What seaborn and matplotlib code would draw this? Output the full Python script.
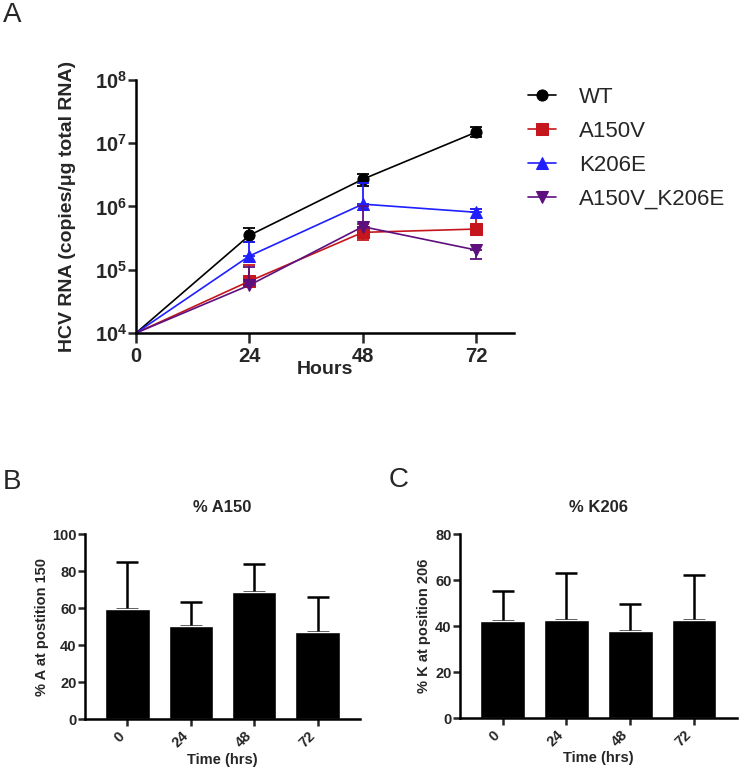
import numpy as np
import pandas as pd
import matplotlib
matplotlib.use('Agg')
import seaborn as sns
import matplotlib.pyplot as plt

# panel A: HCV RNA time course (copies/ug total RNA)
hours = [0, 24, 48, 72]
series_names = ['WT', 'A150V', 'K206E', 'A150V_K206E']
wt = [1e4, 3.5e5, 2.7e6, 1.5e7]
wt_lo = [0, 0.8e5, 0.6e6, 2.3e6]
wt_hi = [0, 1.0e5, 0.6e6, 2.8e6]
a150v = [1e4, 6.6e4, 3.9e5, 4.4e5]
a150v_lo = [0, 0, 0.95e5, 0]
a150v_hi = [0, 5.4e4, 1.3e5, 4.6e5]
k206e = [1e4, 1.65e5, 1.09e6, 8.1e5]
k206e_lo = [0, 0, 0, 0]
k206e_hi = [0, 1.1e5, 1.3e6, 1.0e5]
double = [1e4, 5.7e4, 4.8e5, 2.05e5]
double_lo = [0, 0, 0, 0.55e5]
double_hi = [0, 5.3e4, 5.5e5, 0]

# panels B and C: percent at position
time_labels = ['0', '24', '48', '72']
pct_a150 = [59.5, 50.6, 68.6, 47.4]
pct_a150_sem = [25.4, 12.6, 15.4, 18.9]
pct_k206 = [42.5, 42.8, 37.8, 42.8]
pct_k206_sem = [12.9, 20.5, 11.9, 19.5]

sns.set_style('ticks')
plt.rcParams['font.family'] = ['Liberation Sans', 'DejaVu Sans']
plt.rcParams['mathtext.fontset'] = 'custom'
plt.rcParams['mathtext.bf'] = 'Liberation Sans:bold'
plt.rcParams['mathtext.rm'] = 'Liberation Sans'

fig = plt.figure(figsize=(7.49, 7.72), dpi=100)

SPINE = 1.8


def style_axes(ax):
    sns.despine(ax=ax)
    for s in ['left', 'bottom']:
        ax.spines[s].set_linewidth(SPINE)
        ax.spines[s].set_color('black')


# ---------- panel A ----------
axA = fig.add_axes([136 / 749, 1 - 333 / 772, 378 / 749, 253 / 772])
colors = ['#000000', '#c4161c', '#1f1fff', '#5e0f7e']
markers = ['o', 's', '^', 'v']
vals = [wt, a150v, k206e, double]
los = [wt_lo, a150v_lo, k206e_lo, double_lo]
his = [wt_hi, a150v_hi, k206e_hi, double_hi]

for name, c, m, v, lo, hi in zip(series_names, colors, markers, vals, los, his):
    sns.lineplot(x=hours, y=v, ax=axA, color=c, marker=m, markersize=8,
                 markeredgecolor=c, markevery=[1, 2, 3], linewidth=1.2,
                 label=name)
    axA.errorbar(hours[1:], v[1:], yerr=[lo[1:], hi[1:]], fmt='none',
                 ecolor=c, elinewidth=1.3, capsize=4.5, capthick=1.3)

axA.set_yscale('log')
axA.set_ylim(1e4, 1e8)
axA.set_xlim(0, 80)
axA.set_xticks(hours)
axA.set_xticklabels([str(h) for h in hours])
yt = [1e4, 1e5, 1e6, 1e7, 1e8]
axA.set_yticks(yt)
axA.set_yticklabels([r'$\mathbf{10^{%d}}$' % int(np.log10(t)) for t in yt])
axA.minorticks_off()
axA.tick_params(axis='y', length=5.5, width=SPINE, pad=1, labelsize=14.5)
axA.tick_params(axis='x', length=7, width=SPINE, pad=3, labelsize=14.5)
for lab in axA.get_xticklabels():
    lab.set_fontweight('bold')
style_axes(axA)
axA.set_xlabel('Hours', fontsize=14, fontweight='bold')
axA.set_ylabel('HCV RNA (copies/\u03bcg total RNA)', fontsize=14, fontweight='bold')
axA.xaxis.set_label_coords(0.5, -0.11)
axA.yaxis.set_label_coords(-0.158, 0.5)

handles, labels = axA.get_legend_handles_labels()
axA.get_legend().remove()
fig.legend(handles, labels, loc='upper left', bbox_to_anchor=(528 / 749, 1 - 87 / 772),
           frameon=False, fontsize=16, handlelength=1.26, handletextpad=1.05,
           labelspacing=0.58, borderpad=0, borderaxespad=0)


# ---------- panels B and C ----------
def bar_panel(rect, values, sem, ymax, title, ylab, ylab_x):
    ax = fig.add_axes(rect)
    df = pd.DataFrame({'time': time_labels, 'pct': values})
    sns.barplot(data=df, x='time', y='pct', order=time_labels, color='black',
                width=0.7, errorbar=None, ax=ax, saturation=1)
    ax.errorbar(range(len(values)), values, yerr=[np.zeros(len(sem)), sem],
                fmt='none', ecolor='black', elinewidth=1.8, capsize=8, capthick=1.8,
                zorder=0)
    ax.set_xlim(-0.67, 3.67)
    ax.set_ylim(0, ymax)
    ax.set_yticks(np.arange(0, ymax + 1, 20))
    ax.tick_params(axis='y', length=5, width=SPINE, pad=1, labelsize=10.5)
    ax.tick_params(axis='x', length=5, width=SPINE, pad=2, labelsize=10.5)
    for lab in ax.get_xticklabels():
        lab.set_rotation(45)
        lab.set_ha('right')
        lab.set_fontweight('bold')
    for lab in ax.get_yticklabels():
        lab.set_fontweight('bold')
    style_axes(ax)
    ax.set_title(title, fontsize=12, fontweight='bold', pad=16)
    ax.set_xlabel('Time (hrs)', fontsize=10.5, fontweight='bold')
    ax.set_ylabel(ylab, fontsize=10.5, fontweight='bold')
    ax.xaxis.set_label_coords(0.5, -0.18)
    ax.yaxis.set_label_coords(ylab_x, 0.5)
    return ax


bar_panel([85 / 749, 1 - 719.3 / 772, 275 / 749, 185 / 772], pct_a150, pct_a150_sem,
          100, '% A150', '% A at postition 150', -0.13)
bar_panel([460 / 749, 1 - 718.3 / 772, 276.7 / 749, 184 / 772], pct_k206, pct_k206_sem,
          80, '% K206', '% K at position 206', -0.105)

# panel letters
fig.text(3 / 749, 1 - 2 / 772, 'A', fontsize=20, va='top', ha='left')
fig.text(3 / 749, 1 - 469 / 772, 'B', fontsize=20, va='top', ha='left')
fig.text(389 / 749, 1 - 467 / 772, 'C', fontsize=20, va='top', ha='left')

fig.savefig('out.png', dpi=100)
